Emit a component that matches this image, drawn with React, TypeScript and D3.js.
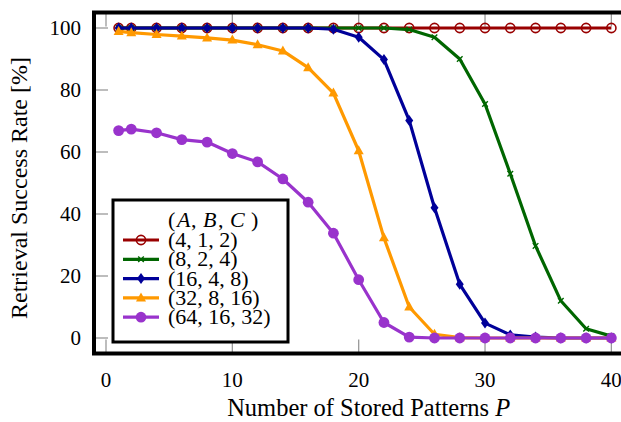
import React from 'react';
import * as d3 from 'd3';

const patterns = [1, 2, 4, 6, 8, 10, 12, 14, 16, 18, 20, 22, 24, 26, 28, 30, 32, 34, 36, 38, 40];

const rate_4_1_2 = [100, 100, 100, 100, 100, 100, 100, 100, 100, 100, 100, 100, 100, 100, 100, 100, 100, 100, 100, 100, 100];
const rate_8_2_4 = [100, 100, 100, 100, 100, 100, 100, 100, 100, 100, 100, 100, 99.5, 97, 90, 75.5, 53, 29.7, 12, 3, 0.6];
const rate_16_4_8 = [100, 100, 100, 100, 100, 100, 100, 100, 100, 99.6, 97, 89.8, 70.2, 42, 17.3, 4.8, 1, 0.3, 0, 0, 0];
const rate_32_8_16 = [98.9, 98.5, 97.9, 97.4, 96.8, 96.1, 94.6, 92.6, 87.2, 79, 60.4, 32.3, 10, 1.2, 0.1, 0, 0, 0, 0, 0, 0];
const rate_64_16_32 = [66.9, 67.4, 66.2, 64, 63.2, 59.5, 56.8, 51.3, 43.8, 33.8, 18.8, 5, 0.3, 0, 0, 0, 0, 0, 0, 0, 0];

const xTicks = [0, 10, 20, 30, 40];
const yTicks = [0, 20, 40, 60, 80, 100];

const series = [
  { label: '(4, 1, 2)', values: rate_4_1_2, color: '#990000', mark: 'o' },
  { label: '(8, 2, 4)', values: rate_8_2_4, color: '#006600', mark: 'x' },
  { label: '(16, 4, 8)', values: rate_16_4_8, color: '#000099', mark: 'diamond' },
  { label: '(32, 8, 16)', values: rate_32_8_16, color: '#ff9900', mark: 'triangle' },
  { label: '(64, 16, 32)', values: rate_64_16_32, color: '#9933cc', mark: 'dot' },
];

// legend header pieces: [text, italic]
const headerParts: [string, boolean][] = [
  ['(', false], ['A', true], [',', false], ['B', true], [',', false], ['C', true], [')', false],
];
const headerX = [168, 177, 191, 203, 218, 230, 251];

const W = 621;
const H = 422;
const FONT = '"Liberation Serif", "DejaVu Serif", serif';

// plot frame (right edge runs off the canvas like the original)
const left = 94, right = 636, top = 12.5, bottom = 353.5;

const x = d3.scaleLinear().domain([-0.95, 41.95]).range([left, right]);
const y = d3.scaleLinear().domain([-5, 105]).range([bottom, top]);

function Marker({ kind, cx, cy, color }: { kind: string; cx: number; cy: number; color: string }) {
  if (kind === 'o') {
    return <circle cx={cx} cy={cy} r={4.6} fill="none" stroke={color} strokeWidth={1.6} />;
  }
  if (kind === 'x') {
    const s = 2.8;
    return (
      <path
        d={`M${cx - s},${cy - s}L${cx + s},${cy + s}M${cx - s},${cy + s}L${cx + s},${cy - s}`}
        stroke={color}
        strokeWidth={1.4}
      />
    );
  }
  if (kind === 'diamond') {
    return (
      <path d={`M${cx},${cy - 5.5}L${cx + 4},${cy}L${cx},${cy + 5.5}L${cx - 4},${cy}Z`} fill={color} />
    );
  }
  if (kind === 'triangle') {
    return <path d={`M${cx},${cy - 5.5}L${cx + 5},${cy + 3.5}L${cx - 5},${cy + 3.5}Z`} fill={color} />;
  }
  return <circle cx={cx} cy={cy} r={5.4} fill={color} />;
}

export default function App() {
  const line = d3
    .line<number>()
    .x((_, i) => x(patterns[i]))
    .y((d) => y(d));

  const legX = 113, legY = 200, legW = 175, legH = 142;
  const rowY = (i: number) => 240 + i * 19.3;

  return (
    <svg
      width={W}
      height={H}
      style={{ position: 'absolute', left: 0, top: 0, background: '#fff' }}
      fontFamily={FONT}
    >
      {/* ticks, inward on all sides */}
      <g stroke="#999" strokeWidth={1.3}>
        {xTicks.map((t) => (
          <g key={'xt' + t}>
            <line x1={x(t)} x2={x(t)} y1={bottom} y2={bottom - 14} />
            <line x1={x(t)} x2={x(t)} y1={top} y2={top + 14} />
          </g>
        ))}
        {yTicks.map((t) => (
          <g key={'yt' + t}>
            <line x1={left} x2={left + 14} y1={y(t)} y2={y(t)} />
            <line x1={right} x2={right - 14} y1={y(t)} y2={y(t)} />
          </g>
        ))}
      </g>

      {series.map((s) => (
        <g key={s.label}>
          <path d={line(s.values) || ''} fill="none" stroke={s.color} strokeWidth={3.2} strokeLinejoin="round" />
          {s.values.map((v, i) => (
            <Marker key={i} kind={s.mark} cx={x(patterns[i])} cy={y(v)} color={s.color} />
          ))}
        </g>
      ))}

      <rect x={left} y={top} width={right - left} height={bottom - top} fill="none" stroke="#000" strokeWidth={4} />

      {/* tick labels */}
      <g fontSize={21} fill="#000">
        {xTicks.map((t) => (
          <text key={'xl' + t} x={x(t)} y={387} textAnchor="middle">
            {t}
          </text>
        ))}
        {yTicks.map((t) => (
          <text key={'yl' + t} x={81} y={y(t) + 7} textAnchor="end">
            {t}
          </text>
        ))}
      </g>

      <text x={x(20) + 10} y={416} textAnchor="middle" fontSize={24.5}>
        Number of Stored Patterns <tspan fontStyle="italic">P</tspan>
      </text>
      <text
        transform={`translate(27, ${(top + bottom) / 2 + 5}) rotate(-90)`}
        textAnchor="middle"
        fontSize={24}
      >
        Retrieval Success Rate [%]
      </text>

      {/* legend */}
      <rect x={legX} y={legY} width={legW} height={legH} fill="#fff" stroke="#000" strokeWidth={3} />
      {headerParts.map(([t, it], i) => (
        <text key={'h' + i} x={headerX[i]} y={227} fontSize={22} fontStyle={it ? 'italic' : 'normal'}>
          {t}
        </text>
      ))}
      {series.map((s, i) => (
        <g key={'leg' + s.label}>
          <line x1={123} x2={159} y1={rowY(i)} y2={rowY(i)} stroke={s.color} strokeWidth={3.2} />
          <Marker kind={s.mark} cx={141} cy={rowY(i)} color={s.color} />
          <text x={168} y={rowY(i) + 7} fontSize={22}>
            {s.label}
          </text>
        </g>
      ))}
    </svg>
  );
}
